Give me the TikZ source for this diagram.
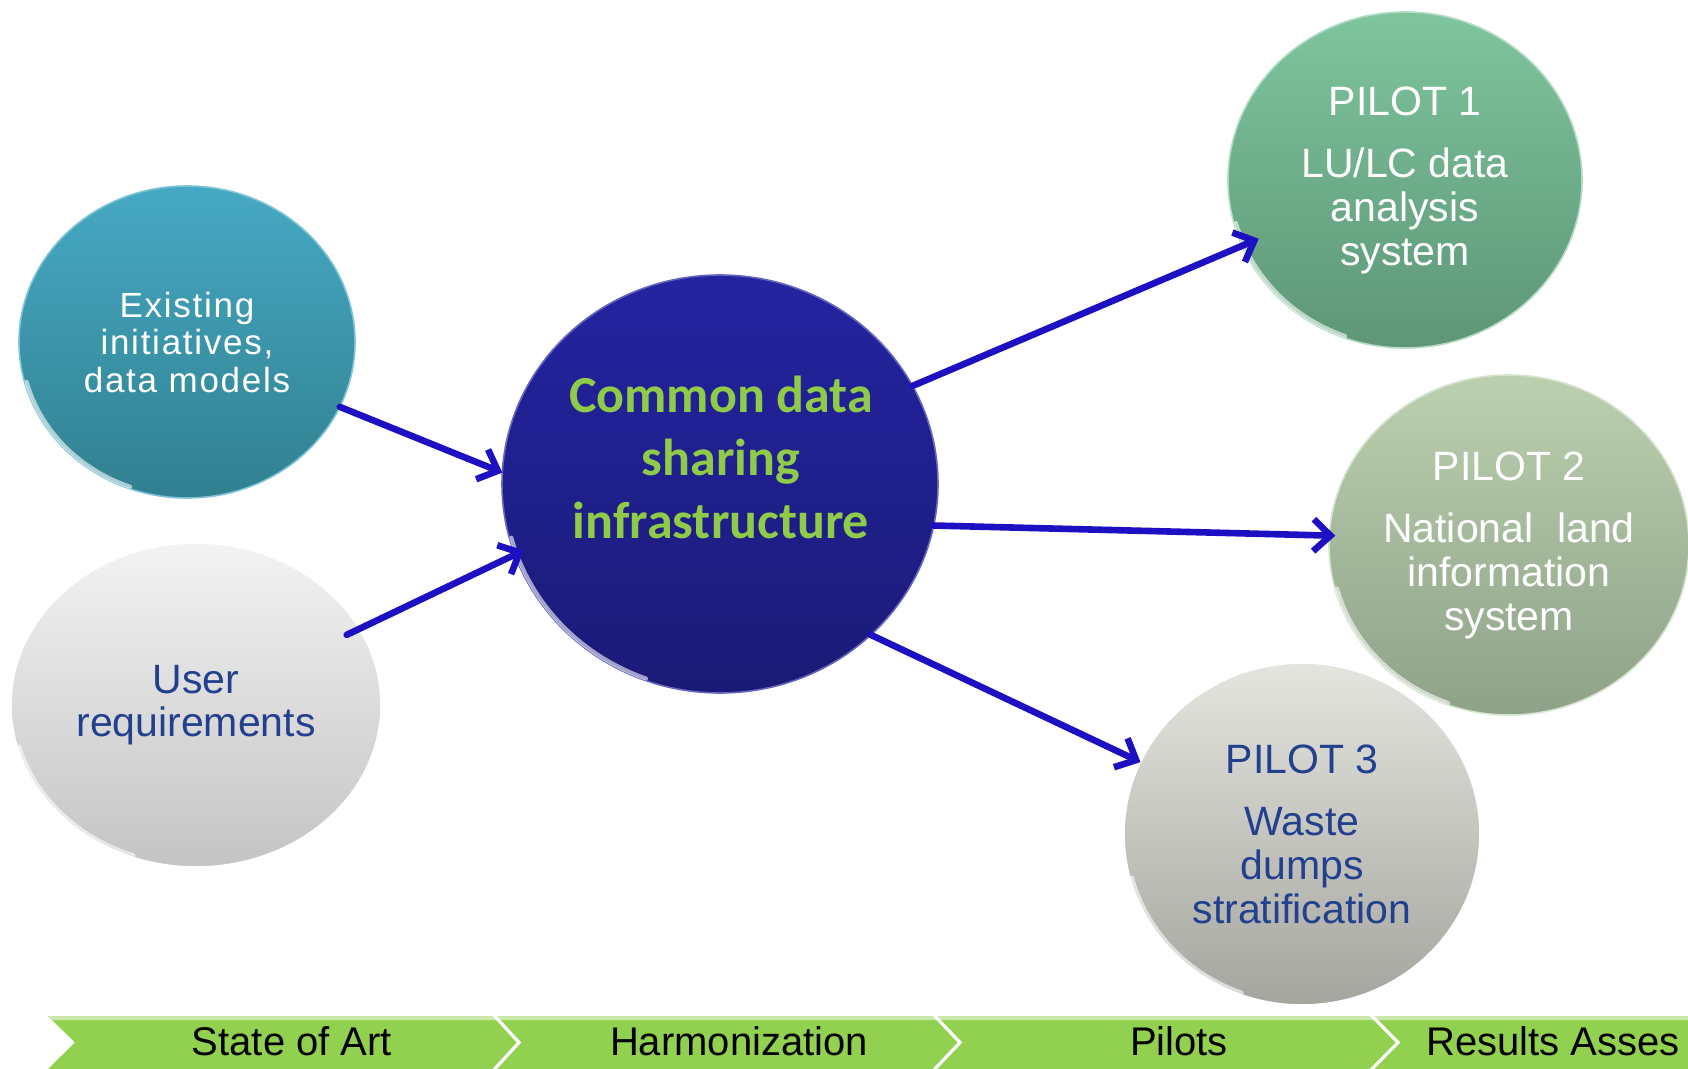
\documentclass[tikz,border=0pt]{standalone}
\usepackage{fontspec}
\setmainfont{Liberation Sans}
\newfontfamily\calib{Carlito}
\newfontfamily\spaced[LetterSpace=5]{Liberation Sans}
\usetikzlibrary{arrows.meta,shapes.geometric}
\definecolor{exTop}{HTML}{46A9C4}
\definecolor{exBot}{HTML}{31808F}
\definecolor{urTop}{HTML}{F3F3F3}
\definecolor{urBot}{HTML}{C4C4C4}
\definecolor{cenTop}{HTML}{2424A2}
\definecolor{cenBot}{HTML}{1A1A76}
\definecolor{cenText}{HTML}{8FCB48}
\definecolor{pOneTop}{HTML}{7EC59D}
\definecolor{pOneBot}{HTML}{5E9677}
\definecolor{pTwoTop}{HTML}{BBD0AF}
\definecolor{pTwoBot}{HTML}{8DA288}
\definecolor{pThrTop}{HTML}{E5E5E0}
\definecolor{pThrBot}{HTML}{A5A5A0}
\definecolor{darkText}{HTML}{22408E}
\definecolor{arrowBlue}{HTML}{1C10C2}
\definecolor{bandGreen}{HTML}{92D050}
\definecolor{bandLight}{HTML}{C9E8AA}
\begin{document}
\begin{tikzpicture}[x=0.5pt,y=-0.5pt,
  bubble/.style={ellipse, inner sep=0pt, outer sep=0pt, align=center},
  conn/.style={draw=arrowBlue, line width=3.3pt, line cap=round,
    -{Straight Barb[length=8.5pt,width=16pt,line width=3.3pt]}},
  hl/.style={white, line width=2pt, opacity=0.6, line cap=round},
  phase/.style={font=\fontsize{20}{22}\selectfont, text=black, inner sep=0pt}
]
\useasboundingbox (0,0) rectangle (1688,1069);
\fill[white] (0,0) rectangle (1688,1069);

% bubbles
\node[bubble, minimum width=168pt, minimum height=156pt,
  top color=exTop, bottom color=exBot, draw=exTop!70!white, line width=0.8pt,
  text=white, font=\spaced\fontsize{17.5}{18.75}\selectfont] (ex) at (187,342)
  {Existing\\initiatives,\\data models};
\node[bubble, minimum width=185pt, minimum height=162pt,
  top color=urTop, bottom color=urBot, draw=white, line width=0.8pt,
  text=darkText, font=\fontsize{20.5}{21.5}\selectfont] (ur) at (196,705)
  {User\\requirements};
\node[bubble, minimum width=218pt, minimum height=209pt,
  top color=cenTop, bottom color=cenBot, draw=cenTop!70!white, line width=0.8pt] (cen) at (720,484) {};
\node[align=center, text=cenText, font=\calib\bfseries\fontsize{26}{31.5}\selectfont] (cent) at (721,457)
  {Common data\\sharing\\infrastructure};
\node[bubble, minimum width=177pt, minimum height=168pt,
  top color=pOneTop, bottom color=pOneBot, draw=pOneTop!60!white, line width=0.8pt,
  text=white, font=\fontsize{20.5}{22}\selectfont] (p1) at (1405,180)
  {PILOT 1\\[9pt]LU/LC data\\analysis\\system};
\node[bubble, minimum width=180pt, minimum height=170pt,
  top color=pTwoTop, bottom color=pTwoBot, draw=pTwoTop!60!white, line width=0.8pt,
  text=white, font=\fontsize{20.5}{22}\selectfont] (p2) at (1509,545)
  {PILOT 2\\[9pt]National\hspace{0.3em} land\\information\\system};
\node[bubble, minimum width=178pt, minimum height=171pt,
  top color=pThrTop, bottom color=pThrBot, draw=white, line width=0.8pt,
  text=darkText, font=\fontsize{20.5}{22}\selectfont] (p3) at (1302,834)
  {PILOT 3\\[9pt]Waste\\dumps\\stratification};

% glossy highlights along the lower-left rim
\draw[hl] ([shift={(195:83pt and 77pt)}]ex.center) arc[start angle=195, end angle=250, x radius=83pt, y radius=77pt];
\draw[hl] ([shift={(195:91.5pt and 80pt)}]ur.center) arc[start angle=195, end angle=250, x radius=91.5pt, y radius=80pt];
\draw[hl] ([shift={(195:108pt and 103.5pt)}]cen.center) arc[start angle=195, end angle=250, x radius=108pt, y radius=103.5pt];
\draw[hl] ([shift={(195:87.5pt and 83pt)}]p1.center) arc[start angle=195, end angle=250, x radius=87.5pt, y radius=83pt];
\draw[hl] ([shift={(195:89pt and 84pt)}]p2.center) arc[start angle=195, end angle=250, x radius=89pt, y radius=84pt];
\draw[hl] ([shift={(195:88pt and 84.5pt)}]p3.center) arc[start angle=195, end angle=250, x radius=88pt, y radius=84.5pt];

% connectors
\draw[conn] (ex.-23) -- (cen.177);
\draw[conn, shorten <=-7pt, shorten >=-5pt] (ur.25) -- (cen.199);
\draw[conn, shorten >=-9pt] (cen.27) -- (p1.202);
\draw[conn, shorten >=-3pt] (cen.-11) -- (p2.177);
\draw[conn] (cen.-45) -- (p3.156);

% phase band
\fill[bandGreen] (48,1016) -- (1688,1016) -- (1688,1069) -- (48,1069) -- (75,1042.5) -- cycle;
\fill[bandLight] (48,1016) -- (1688,1016) -- (1688,1020) -- (52,1020) -- cycle;
\draw[white, line width=1.6pt] (491,1012) -- (519,1042.5) -- (491,1073);
\draw[white, line width=1.6pt] (931,1012) -- (960,1042.5) -- (931,1073);
\draw[white, line width=1.6pt] (1368,1012) -- (1398,1042.5) -- (1368,1073);

\node[phase, anchor=base] (ph1) at (292,1055) {State of Art};
\node[phase, anchor=base] (ph2) at (739,1055) {Harmonization};
\node[phase, anchor=base] (ph3) at (1179,1055) {Pilots};
\node[phase, anchor=base west] (ph4) at (1426,1055) {Results Asses};
\end{tikzpicture}
\end{document}
